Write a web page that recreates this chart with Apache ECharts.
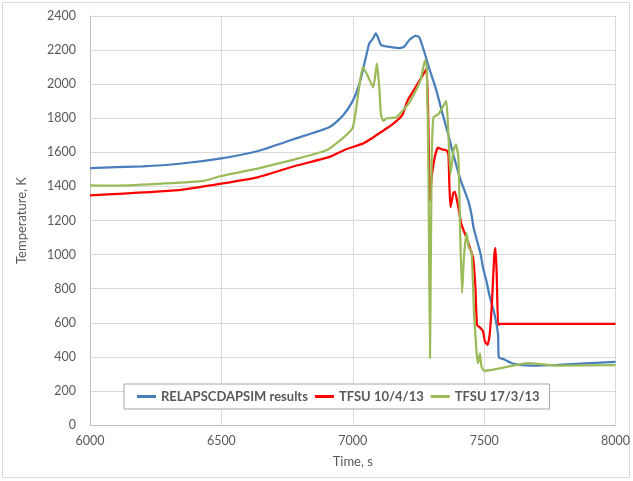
<!DOCTYPE html>
<html>
<head>
<meta charset="utf-8">
<script src="https://cdn.jsdelivr.net/npm/echarts@6/dist/echarts.min.js"></script>
<style>
  html, body { margin: 0; padding: 0; background: #fff; }
  #chart { width: 633px; height: 481px; }
</style>
</head>
<body>
<div id="chart"></div>
<script>
// Axis ticks
const xTicks = [6000, 6500, 7000, 7500, 8000];
const yTicks = [0, 200, 400, 600, 800, 1000, 1200, 1400, 1600, 1800, 2000, 2200, 2400];

// Series names
const seriesNames = ['RELAPSCDAPSIM results', 'TFSU 10/4/13', 'TFSU 17/3/13'];

// RELAP/SCDAPSIM calculation: time (s) and temperature (K)
const relapTime = [6000, 6200, 6340, 6500, 6640, 6780, 6912, 6962, 7000, 7025, 7044, 7063, 7076, 7088,
  7098, 7107, 7133, 7177, 7196, 7215, 7240, 7253, 7271, 7290, 7316, 7341, 7366, 7385, 7410, 7440,
  7452, 7460, 7477, 7487, 7496, 7509, 7521, 7540, 7553, 7556, 7572, 7616, 7679, 7780, 8000];
const relapTemp = [1508, 1518, 1533, 1565, 1608, 1680, 1749, 1814, 1902, 2000, 2118, 2239, 2265, 2298,
  2265, 2231, 2220, 2212, 2220, 2259, 2284, 2275, 2196, 2098, 1975, 1830, 1690, 1575, 1440, 1314,
  1235, 1157, 1059, 1000, 921, 843, 755, 647, 529, 396, 388, 357, 349, 353, 370];

// Test TFSU 10/4/13: time (s) and temperature (K)
const tfsu1004Time = [6000, 6338, 6499, 6641, 6780, 6912, 6975, 7038, 7076, 7114, 7152, 7189, 7208,
  7227, 7246, 7265, 7280, 7286, 7294, 7300, 7313, 7324, 7338, 7357, 7364, 7368, 7372, 7383, 7389,
  7402, 7414, 7433, 7446, 7458, 7467, 7473, 7487, 7496, 7503, 7513, 7521, 7530, 7538, 7543, 7548,
  7553, 7559, 8000];
const tfsu1004Temp = [1347, 1378, 1416, 1455, 1520, 1573, 1618, 1651, 1686, 1725, 1765, 1820, 1902,
  1951, 2000, 2049, 2088, 1900, 1314, 1450, 1578, 1627, 1618, 1612, 1588, 1400, 1278, 1363, 1369,
  1274, 1176, 1098, 1039, 980, 804, 588, 568, 549, 490, 470, 529, 725, 980, 1039, 882,
  588, 593, 593];

// Test TFSU 17/3/13: time (s) and temperature (K)
const tfsu1703Time = [6000, 6086, 6427, 6499, 6641, 6780, 6900, 6960, 7000, 7019, 7038, 7057, 7078,
  7092, 7101, 7107, 7116, 7129, 7164, 7189, 7215, 7240, 7259, 7275, 7282, 7288, 7294, 7300, 7307,
  7326, 7338, 7356, 7364, 7372, 7383, 7393, 7402, 7409, 7416, 7423, 7433, 7442, 7452, 7462, 7471,
  7477, 7484, 7490, 7500, 7528, 7591, 7667, 7780, 8000];
const tfsu1703Temp = [1406, 1404, 1431, 1461, 1506, 1559, 1612, 1680, 1745, 1922, 2102, 2049, 1980,
  2122, 1980, 1824, 1784, 1800, 1804, 1843, 1892, 1961, 2029, 2141, 2098, 1500, 392, 1510, 1804,
  1824, 1853, 1902, 1706, 1471, 1608, 1647, 1569, 1118, 774, 980, 1127, 1039, 1020, 647, 431,
  363, 421, 343, 318, 323, 343, 363, 349, 352];

const colors = ['#4A7EBB', '#FF0000', '#9BBB59'];

function pairs(ts, vs) {
  return ts.map((t, i) => [t, vs[i]]);
}

const textColor = '#595959';
const fontFamily = 'Lato, "Open Sans", sans-serif';

const chart = echarts.init(document.getElementById('chart'), null, { renderer: 'canvas' });

chart.setOption({
  backgroundColor: '#ffffff',
  animation: false,
  color: colors,
  textStyle: { fontFamily: fontFamily },
  graphic: [{
    type: 'rect',
    shape: { x: 2.5, y: 2.5, width: 627, height: 475 },
    style: { fill: 'none', stroke: '#d9d9d9', lineWidth: 1 },
    silent: true,
    z: -1
  }],
  grid: { left: 90, right: 15, top: 16, bottom: 56, containLabel: false },
  legend: {
    data: seriesNames,
    left: 124,
    top: 384,
    padding: [6, 10, 6, 13],
    itemGap: 7,
    itemWidth: 19,
    itemHeight: 3,
    icon: 'rect',
    borderColor: '#a6a6a6',
    borderWidth: 1,
    backgroundColor: '#ffffff',
    textStyle: { color: textColor, fontSize: 13, fontWeight: 'bold', fontFamily: fontFamily }
  },
  xAxis: {
    type: 'value',
    min: xTicks[0],
    max: xTicks[xTicks.length - 1],
    interval: xTicks[1] - xTicks[0],
    name: 'Time, s',
    nameLocation: 'middle',
    nameGap: 30,
    nameTextStyle: { color: textColor, fontSize: 13, fontFamily: fontFamily },
    axisLine: { show: true, lineStyle: { color: '#bfbfbf', width: 1 } },
    axisTick: { show: false },
    axisLabel: { color: textColor, fontSize: 12.5, margin: 9, fontFamily: fontFamily, formatter: v => String(v) },
    splitLine: { show: true, lineStyle: { color: '#d9d9d9', width: 1 } }
  },
  yAxis: {
    type: 'value',
    min: yTicks[0],
    max: yTicks[yTicks.length - 1],
    interval: yTicks[1] - yTicks[0],
    name: 'Temperature, K',
    nameLocation: 'middle',
    nameGap: 62,
    nameTextStyle: { color: textColor, fontSize: 13, fontFamily: fontFamily },
    axisLine: { show: true, lineStyle: { color: '#bfbfbf', width: 1 } },
    axisTick: { show: false },
    axisLabel: { color: textColor, fontSize: 12.5, margin: 14, fontFamily: fontFamily, formatter: v => String(v) },
    splitLine: { show: true, lineStyle: { color: '#d9d9d9', width: 1 } }
  },
  series: [
    {
      name: seriesNames[0], type: 'line', showSymbol: false, smooth: 0.2,
      lineStyle: { width: 2.25, color: colors[0] },
      data: pairs(relapTime, relapTemp), z: 2
    },
    {
      name: seriesNames[1], type: 'line', showSymbol: false, smooth: 0.15,
      lineStyle: { width: 2.25, color: colors[1] },
      data: pairs(tfsu1004Time, tfsu1004Temp), z: 3
    },
    {
      name: seriesNames[2], type: 'line', showSymbol: false, smooth: 0.15,
      lineStyle: { width: 2.25, color: colors[2] },
      data: pairs(tfsu1703Time, tfsu1703Temp), z: 4
    }
  ]
});
</script>
</body>
</html>
